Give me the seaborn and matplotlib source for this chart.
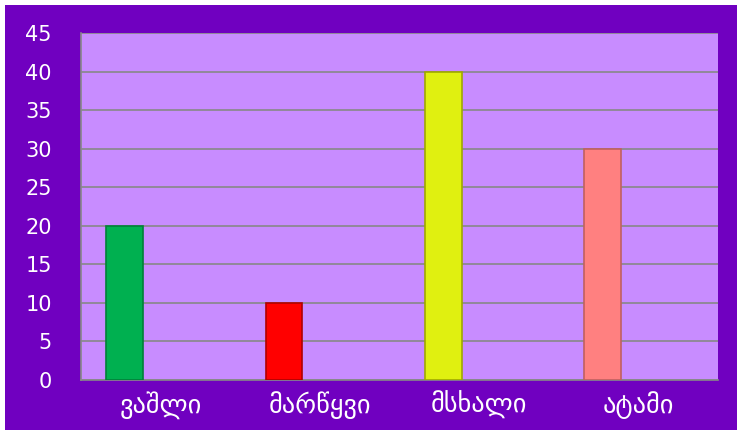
import matplotlib
matplotlib.use("Agg")
import matplotlib.pyplot as plt
import seaborn as sns
import pandas as pd
import numpy as np
from matplotlib.patches import Rectangle

categories = ["ვაშლი", "მარწყვი", "მსხალი", "ატამი"]
values = [20, 10, 40, 30]
bar_colors = ["#00B050", "#FF0000", "#E0F010", "#FF8080"]
edge_colors = ["#00803A", "#B00000", "#A0A800", "#C06060"]
yticks = [0, 5, 10, 15, 20, 25, 30, 35, 40, 45]

sns.set_theme(style="white")
plt.rcParams['font.family'] = ['DejaVu Sans']

fig = plt.figure(figsize=(7.37, 4.30), dpi=100)
fig.patch.set_facecolor("white")
fig.patches.append(Rectangle((5/737, 0), 1 - 5/737, 1 - 5/430, transform=fig.transFigure,
                             facecolor="#7000C0", edgecolor="none", zorder=-10))
ax = fig.add_axes([81/737, 1 - 380/430, (718 - 81)/737, (380 - 33)/430])
ax.set_facecolor("#C88CFF")

series = ["s1", "s2", "s3"]
df = pd.DataFrame({
    "cat": categories * 3,
    "val": values + [np.nan] * 8,
    "ser": ["s1"] * 4 + ["s2"] * 4 + ["s3"] * 4,
})
sns.barplot(data=df, x="cat", y="val", hue="ser", hue_order=series, order=categories,
            width=0.69, gap=0, dodge=True, legend=False, ax=ax, zorder=3,
            palette=["#00B050", "#888888", "#888888"])

bars = [p for p in ax.patches if np.isfinite(p.get_height()) and p.get_height() > 0]
bars.sort(key=lambda p: p.get_x())
for p, fc, ec in zip(bars, bar_colors, edge_colors):
    p.set_facecolor(fc)
    p.set_edgecolor(ec)
    p.set_linewidth(1.2)
    p.set_x(p.get_x() + 0.005)

ax.set_ylim(0, 45)
ax.set_xlim(-0.5, 3.5)
ax.set_yticks(yticks)
ax.set_yticklabels([str(v) for v in yticks], color="white", fontsize=15)
ax.yaxis.grid(True, color="#888888", linewidth=1.2, zorder=0)
ax.set_axisbelow(True)
ax.set_xlabel("")
ax.set_ylabel("")

ax.set_xticks(range(4))
ax.set_xticklabels(categories, color="white", fontsize=19)
ax.tick_params(axis="x", which="major", length=0, pad=8)
ax.set_xticks([-0.5, 0.5, 1.5, 2.5, 3.5], minor=True)
ax.tick_params(axis="x", which="minor", length=6, color="#888888", width=1.2, direction="out")
ax.tick_params(axis="y", length=9, color="#888888", width=1.2, direction="out", pad=12)

for s in ["top", "right"]:
    ax.spines[s].set_visible(False)
for s in ["left", "bottom"]:
    ax.spines[s].set_color("#888888")
    ax.spines[s].set_linewidth(1.2)

fig.savefig("out.png", dpi=100, facecolor=fig.get_facecolor())
